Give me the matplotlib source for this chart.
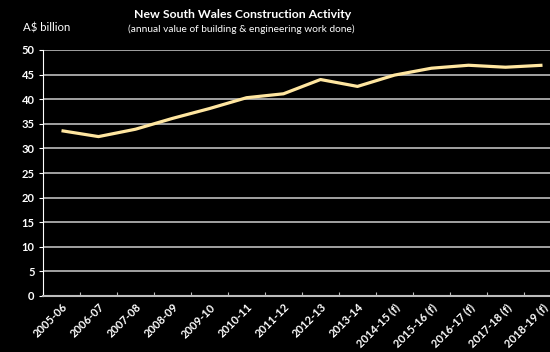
import matplotlib
matplotlib.use('Agg')
import matplotlib.pyplot as plt

years = ['2005-06', '2006-07', '2007-08', '2008-09', '2009-10', '2010-11', '2011-12',
         '2012-13', '2013-14', '2014-15 (f)', '2015-16 (f)', '2016-17 (f)', '2017-18 (f)',
         '2018-19 (f)']
values = [33.6, 32.4, 33.9, 36.1, 38.1, 40.3, 41.1, 44.0, 42.6, 44.9, 46.3, 46.9, 46.5, 46.9]

plt.rcParams['font.family'] = ['Lato', 'DejaVu Sans']

fig = plt.figure(figsize=(5.5, 3.52), dpi=100, facecolor='black')
ax = fig.add_axes([43 / 550, 1 - 296 / 352, 518 / 550, 246 / 352])
ax.set_facecolor('black')

x = list(range(len(years)))
ax.plot(x, values, color='#ffe6a0', lw=2.3, solid_capstyle='butt', zorder=3)

ax.set_xlim(-0.5, len(years) - 0.5)
ax.set_ylim(0, 50)
ax.set_yticks(range(0, 51, 5))
for v in range(5, 51, 5):
    ax.axhline(v, color='#bdbdbd', lw=1.2, zorder=1)

# category boundaries as major ticks, labels on minor ticks at centres
ax.set_xticks([i - 0.5 for i in range(len(years) + 1)], minor=False)
ax.set_xticklabels([])
ax.set_xticks(x, minor=True)
ax.set_xticklabels(years, minor=True, rotation=45, ha='right', va='top',
                   rotation_mode='anchor', color='white', fontsize=8, fontweight='bold')
ax.tick_params(axis='x', which='minor', length=0, pad=4)
ax.tick_params(axis='x', which='major', length=3, color='#bdbdbd', direction='in')
ax.tick_params(axis='y', length=3, color='white', labelcolor='white', labelsize=8, pad=3)
for lab in ax.get_yticklabels():
    lab.set_fontweight('bold')

for s in ['top', 'right']:
    ax.spines[s].set_visible(False)
ax.spines['left'].set_color('white')
ax.spines['bottom'].set_color('#bdbdbd')
ax.spines['bottom'].set_linewidth(1.5)

fig.text(243 / 550, 1 - 15 / 352, 'New South Wales Construction Activity', ha='center',
         va='center', color='white', fontsize=8.8, fontweight='bold')
fig.text(241 / 550, 1 - 29 / 352, '(annual value of building & engineering work done)',
         ha='center', va='center', color='white', fontsize=7.3)
fig.text(23 / 550, 1 - 28 / 352, 'A$ billion', ha='left', va='center', color='white',
         fontsize=8.2)

fig.savefig('out.png', dpi=100, facecolor='black')
